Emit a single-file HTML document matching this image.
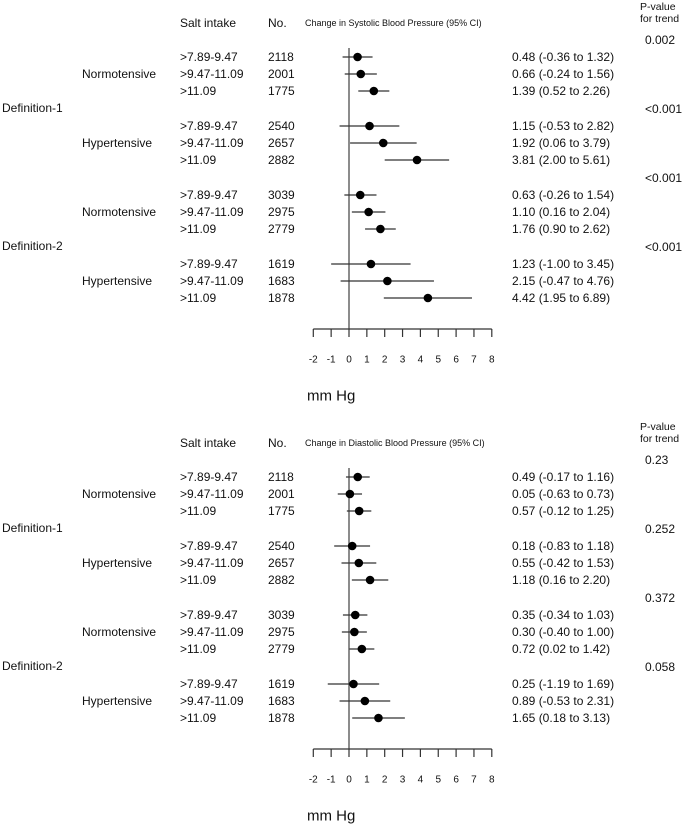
<!DOCTYPE html>
<html><head><meta charset="utf-8"><style>
html,body{margin:0;padding:0;background:#fff;}
svg{display:block;font-family:"Liberation Sans",Arial,sans-serif;}
</style></head><body>
<svg id="chart" width="685" height="825" viewBox="0 0 685 825"></svg>
<script>
const salt = [">7.89-9.47", ">9.47-11.09", ">11.09"];
const groups = ["Normotensive", "Hypertensive", "Normotensive", "Hypertensive"];
const defs = ["Definition-1", "Definition-2"];
const counts = [2118, 2001, 1775, 2540, 2657, 2882, 3039, 2975, 2779, 1619, 1683, 1878];
const sbpEst = [0.48, 0.66, 1.39, 1.15, 1.92, 3.81, 0.63, 1.10, 1.76, 1.23, 2.15, 4.42];
const sbpLo = [-0.36, -0.24, 0.52, -0.53, 0.06, 2.00, -0.26, 0.16, 0.90, -1.00, -0.47, 1.95];
const sbpHi = [1.32, 1.56, 2.26, 2.82, 3.79, 5.61, 1.54, 2.04, 2.62, 3.45, 4.76, 6.89];
const sbpP = ["0.002", "<0.001", "<0.001", "<0.001"];
const dbpEst = [0.49, 0.05, 0.57, 0.18, 0.55, 1.18, 0.35, 0.30, 0.72, 0.25, 0.89, 1.65];
const dbpLo = [-0.17, -0.63, -0.12, -0.83, -0.42, 0.16, -0.34, -0.40, 0.02, -1.19, -0.53, 0.18];
const dbpHi = [1.16, 0.73, 1.25, 1.18, 1.53, 2.20, 1.03, 1.00, 1.42, 1.69, 2.31, 3.13];
const dbpP = ["0.23", "0.252", "0.372", "0.058"];
const ticks = [-2, -1, 0, 1, 2, 3, 4, 5, 6, 7, 8];

const svg = document.getElementById('chart');
const NS = 'http://www.w3.org/2000/svg';
function mk(tag, attrs, parent) {
  const e = document.createElementNS(NS, tag);
  for (const k in attrs) e.setAttribute(k, attrs[k]);
  (parent || svg).appendChild(e);
  return e;
}
function txt(x, y, s, size, parent, anchor) {
  const t = mk('text', {x: x, y: y, 'font-size': size, fill: '#111', 'text-anchor': anchor || 'start', 'dominant-baseline': 'central'}, parent);
  t.textContent = s;
  return t;
}
const xScale = v => 349 + v * 17.85;
const rowY = i => { const blk = Math.floor(i / 3); return 57 + blk * 69 + (i % 3) * 17; };
const fmt = v => v.toFixed(2);

function panel(off, title, est, lo, hi, pv, key) {
  const g = mk('g', {transform: 'translate(0,' + off + ')'});
  
  
  let t;
  t = txt(180, 23, 'Salt intake', 12, g);  
  t = txt(268, 23, 'No.', 12, g);  
  t = txt(305, 23, title, 9, g);  
  t = txt(640, 7, 'P-value', 10.5, g);  
  t = txt(640, 19, 'for trend', 10.5, g);  
  defs.forEach((d, k) => {
    const dt = txt(2, 108 + k * 138, d, 12, g);
    
    
  });
  groups.forEach((gr, k) => {
    const gt = txt(82, rowY(k * 3 + 1), gr, 12, g);
    
    
  });
  pv.forEach((p, k) => {
    const pt = txt(645, 40 + k * 69, p, 12, g);
    
    
  });
  const zl = mk('line', {x1: xScale(0), x2: xScale(0), y1: 48, y2: 329, stroke: '#666', 'stroke-width': 1.5}, g);
  
  
  counts.forEach((c, i) => {
    const y = rowY(i);
    let e = txt(180, y, salt[i % 3], 12, g);
    
    
    e = txt(268, y, String(c), 12, g);
    
    
    e = mk('line', {x1: xScale(lo[i]), x2: xScale(hi[i]), y1: y, y2: y, stroke: '#333', 'stroke-width': 1.2}, g);
    
    
    e = mk('circle', {cx: xScale(est[i]), cy: y, r: 4.3, fill: '#000'}, g);
    
    
    e = txt(512, y, fmt(est[i]) + ' (' + fmt(lo[i]) + ' to ' + fmt(hi[i]) + ')', 12, g);
    
    
  });
  const ax = mk('line', {x1: xScale(ticks[0]), x2: xScale(ticks[ticks.length - 1]), y1: 329, y2: 329, stroke: '#333', 'stroke-width': 1.2}, g);
  
  
  ticks.forEach(v => {
    const tk = mk('line', {x1: xScale(v), x2: xScale(v), y1: 329, y2: 337, stroke: '#333', 'stroke-width': 1.2}, g);
    
    
    const tl = txt(xScale(v), 360, String(v), 10, g, 'middle');
    
    
  });
  t = txt(307, 396, 'mm Hg', 15, g);  
}
panel(0, 'Change in Systolic Blood Pressure (95% CI)', sbpEst, sbpLo, sbpHi, sbpP, 'systolic');
panel(420, 'Change in Diastolic Blood Pressure (95% CI)', dbpEst, dbpLo, dbpHi, dbpP, 'diastolic');
</script>
</body></html>
